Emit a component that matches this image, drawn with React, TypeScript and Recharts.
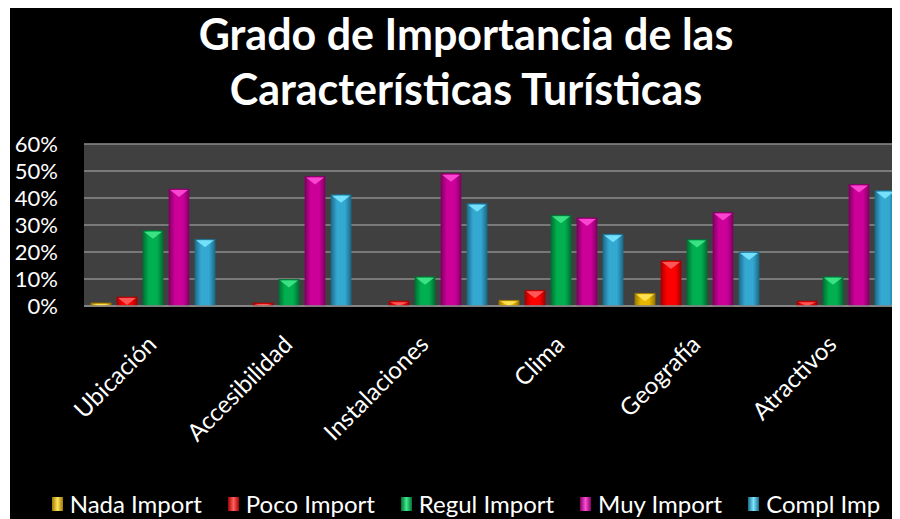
import React from 'react';
import { BarChart, Bar, XAxis, YAxis, CartesianGrid } from 'recharts';

const categories = ['Ubicación', 'Accesibilidad', 'Instalaciones', 'Clima', 'Geografía', 'Atractivos'];
const nadaImport = [1.1, 0, 0, 2.1, 4.7, 0];
const pocoImport = [3.3, 1.1, 1.8, 5.8, 16.7, 1.8];
const regulImport = [27.9, 9.8, 10.8, 33.6, 24.6, 10.8];
const muyImport = [43.3, 48.0, 49.0, 32.6, 34.6, 45.0];
const complImp = [24.7, 41.2, 37.9, 26.6, 20.0, 42.7];
const yTicks = [0, 10, 20, 30, 40, 50, 60];
const titleLines = ['Grado de Importancia de las', 'Características Turísticas'];

const series = [
  { key: 'nada', name: 'Nada Import', values: nadaImport, base: '#e8b800', light: '#ffe45a', dark: '#9c7a00' },
  { key: 'poco', name: 'Poco Import', values: pocoImport, base: '#ff0000', light: '#ff6060', dark: '#a80000' },
  { key: 'regul', name: 'Regul Import', values: regulImport, base: '#00b050', light: '#40e88a', dark: '#007034' },
  { key: 'muy', name: 'Muy Import', values: muyImport, base: '#cc0099', light: '#ff4cd6', dark: '#820062' },
  { key: 'compl', name: 'Compl Imp', values: complImp, base: '#33a8d0', light: '#7ce6ff', dark: '#1c6c8c' },
];

const data = categories.map((name, i) => {
  const row: Record<string, any> = { name };
  series.forEach(s => { row[s.key] = s.values[i]; });
  return row;
});

const FONT = 'Lato, "Open Sans", sans-serif';

const makeShape = (s: typeof series[number]) => (props: any) => {
  const { x, y, width, height } = props;
  if (!height || height <= 0) return <g />;
  const tip = Math.min(8, height);
  return (
    <g>
      <rect x={x} y={y} width={width} height={height} fill={`url(#grad-${s.key})`} stroke={s.dark} strokeWidth={0.8} />
      <polygon points={`${x + 1},${y + 1} ${x + width - 1},${y + 1} ${x + width / 2},${y + tip}`} fill={s.light} opacity={0.9} />
    </g>
  );
};

const XTick = (props: any) => {
  const { x, y, payload } = props;
  return (
    <text
      transform={`translate(${x + 6},${y + 32}) rotate(-45)`}
      textAnchor="end"
      fill="#ffffff"
      fontSize={24}
      fontFamily={FONT}
    >
      {payload.value}
    </text>
  );
};

export default function App() {
  return (
    <div style={{ position: 'relative', width: 890, height: 511, marginLeft: 2, background: '#000', overflow: 'hidden' }}>
      {titleLines.map((line, i) => (
        <div
          key={line}
          style={{
            position: 'absolute', left: 0, top: 4 + i * 55, width: 890, paddingLeft: 22, boxSizing: 'border-box',
            textAlign: 'center', color: '#fff', fontFamily: FONT, fontWeight: 700, fontSize: 43, lineHeight: '44px',
          }}
        >
          {line}
        </div>
      ))}
      <BarChart
        width={890}
        height={511}
        data={data}
        margin={{ top: 136, right: 0, left: 0, bottom: 0 }}
        barCategoryGap={7}
        barGap={6}
      >
        <defs>
          {series.map(s => (
            <linearGradient key={s.key} id={`grad-${s.key}`} x1="0" y1="0" x2="1" y2="0">
              <stop offset="0%" stopColor={s.dark} />
              <stop offset="30%" stopColor={s.base} />
              <stop offset="70%" stopColor={s.base} />
              <stop offset="100%" stopColor={s.dark} />
            </linearGradient>
          ))}
        </defs>
        <CartesianGrid vertical={false} fill="#404040" stroke="#8c8c8c" strokeWidth={1.5} />
        <XAxis
          dataKey="name"
          height={213}
          tick={<XTick />}
          tickLine={false}
          axisLine={{ stroke: '#8c8c8c', strokeWidth: 1.5 }}
          interval={0}
        />
        <YAxis
          width={74}
          domain={[0, 60]}
          ticks={yTicks}
          interval={0}
          tickFormatter={(v: number) => `${v}%`}
          tick={{ fill: '#ffffff', fontSize: 22, fontFamily: FONT }}
          tickLine={false}
          tickSize={0}
          tickMargin={26}
          axisLine={false}
        />
        {series.map(s => (
          <Bar key={s.key} dataKey={s.key} name={s.name} fill={s.base} shape={makeShape(s)} isAnimationActive={false} />
        ))}
      </BarChart>
      <div
        style={{
          position: 'absolute', left: 0, top: 481, width: 890, display: 'flex', justifyContent: 'center',
          paddingLeft: 22, boxSizing: 'border-box', gap: 26, color: '#fff', fontFamily: FONT, fontSize: 24,
        }}
      >
        {series.map(s => (
          <div key={s.key} style={{ display: 'flex', alignItems: 'center', gap: 7 }}>
            <div style={{ width: 11, height: 14, background: `linear-gradient(90deg, ${s.dark}, ${s.light}, ${s.dark})` }} />
            <span>{s.name}</span>
          </div>
        ))}
      </div>
    </div>
  );
}
